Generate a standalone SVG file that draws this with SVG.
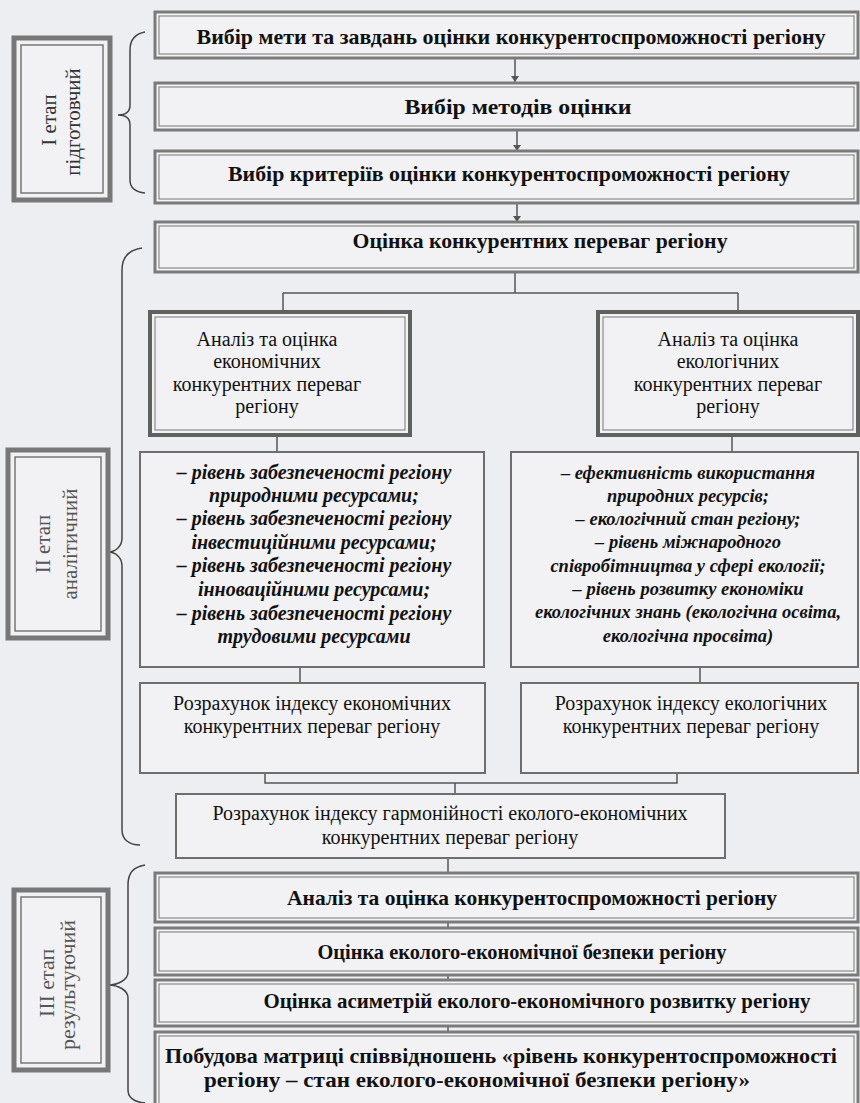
<svg xmlns="http://www.w3.org/2000/svg" width="860" height="1103" viewBox="0 0 860 1103">
<defs>
<style>
.bg{fill:#edeef1}
.o{fill:#f2f2f4;stroke:#7a7a7a;stroke-width:3}
.i{fill:none;stroke:#8a8a8a;stroke-width:1.2}
.od{fill:#f2f2f4;stroke:#606060;stroke-width:4}
.s{fill:#f2f2f4;stroke:#6e6e6e;stroke-width:2}
.so{fill:#f2f2f4;stroke:#777;stroke-width:5}
.si{fill:none;stroke:#777;stroke-width:1.5}
text{font-family:"Liberation Serif","Times New Roman",serif;fill:#111;text-anchor:middle}
.hb{font-weight:bold;font-size:21px}
.rg{font-size:20px}
.it{font-style:italic;font-weight:bold;font-size:20px}
.it2{font-style:italic;font-weight:bold;font-size:18.5px}
.st{font-size:21px;fill:#555}
.st3{font-size:22px;fill:#555}
.st1{font-size:21px;fill:#333}
.c{stroke:#555;stroke-width:1.5;fill:none}
.br{stroke:#444;stroke-width:1.5;fill:none}
</style>
<marker id="ad" markerWidth="10" markerHeight="8" refX="5" refY="8" orient="0" markerUnits="userSpaceOnUse" viewBox="0 0 10 8">
<path d="M1 2 L9 2 L5 8 Z" fill="#555"/>
</marker>
</defs>
<rect class="bg" x="0" y="0" width="860" height="1103"/>

<g id="connectors">
<path class="c" d="M515 58 V82" marker-end="url(#ad)"/>
<path class="c" d="M517 130 V151" marker-end="url(#ad)"/>
<path class="c" d="M517 203 V222" marker-end="url(#ad)"/>
<path class="c" d="M515 272 V293 M283 293 H738 M283 293 V312 M738 293 V312"/>
<path class="c" d="M277 435 V452 M732 435 V452"/>
<path class="c" d="M300 667 V683 M700 667 V683"/>
<path class="c" d="M265 773 V783 H677 V773 M455 783 V794"/>
<path class="c" d="M448 858 V873 M448 922 V928 M448 975 V980 M448 1026 V1032"/>
</g>

<g id="braces">
<path class="br" d="M145 32 C134 34 130 40 130 50 V105 C130 112 125 115 118 115 C125 115 130 118 130 125 V180 C130 188 135 192 145 193"/>
<path class="br" d="M142 248 C128 250 122 258 122 270 V538 C122 546 116 552 108 552 C116 552 122 558 122 566 V830 C122 840 130 845 140 845"/>
<path class="br" d="M145 865 C133 867 128 873 128 885 V972 C128 980 118 985 108 985 C118 985 128 990 128 998 V1090 C128 1098 135 1102 145 1103"/>
</g>

<g id="stage1">
<rect class="so" x="14" y="38" width="96" height="162"/>
<rect class="si" x="21" y="45" width="82" height="148"/>
<text class="st1" transform="translate(56 120) rotate(-90)">І етап</text>
<text class="st1" transform="translate(80 122) rotate(-90)">підготовчий</text>
</g>

<g id="stage2">
<rect class="so" x="8" y="450" width="100" height="188"/>
<rect class="si" x="15" y="457" width="86" height="174"/>
<text class="st" transform="translate(50 544) rotate(-90)">ІІ етап</text>
<text class="st" transform="translate(77 544) rotate(-90)">аналітичний</text>
</g>

<g id="stage3">
<rect class="so" x="14" y="890" width="94" height="180"/>
<rect class="si" x="21" y="897" width="80" height="166"/>
<text class="st3" transform="translate(54 983) rotate(-90)">ІІІ етап</text>
<text class="st3" transform="translate(75 985) rotate(-90)">результуючий</text>
</g>

<g id="n1">
<rect class="o" x="155" y="12" width="703" height="46"/>
<rect class="i" x="159" y="16" width="695" height="38"/>
<text class="hb" x="511" y="44" textLength="629" lengthAdjust="spacingAndGlyphs">Вибір мети та завдань оцінки конкурентоспроможності регіону</text>
</g>
<g id="n2">
<rect class="o" x="155" y="83" width="703" height="47"/>
<rect class="i" x="159" y="87" width="695" height="39"/>
<text class="hb" x="518" y="114" textLength="227" lengthAdjust="spacingAndGlyphs">Вибір методів оцінки</text>
</g>
<g id="n3">
<rect class="o" x="155" y="151" width="703" height="52"/>
<rect class="i" x="159" y="155" width="695" height="44"/>
<text class="hb" x="509" y="181" textLength="562" lengthAdjust="spacingAndGlyphs">Вибір критеріїв оцінки конкурентоспроможності регіону</text>
</g>
<g id="n4">
<rect class="o" x="155" y="222" width="703" height="50"/>
<rect class="i" x="159" y="226" width="695" height="42"/>
<text class="hb" x="540" y="248" textLength="375" lengthAdjust="spacingAndGlyphs">Оцінка конкурентних переваг регіону</text>
</g>

<g id="n5">
<rect class="od" x="150" y="312" width="260" height="123"/>
<rect class="i" x="155" y="317" width="250" height="113"/>
<text class="rg" x="267" y="346">Аналіз та оцінка</text>
<text class="rg" x="267" y="368">економічних</text>
<text class="rg" x="267" y="391">конкурентних переваг</text>
<text class="rg" x="267" y="413">регіону</text>
</g>
<g id="n6">
<rect class="od" x="598" y="312" width="260" height="123"/>
<rect class="i" x="603" y="317" width="250" height="113"/>
<text class="rg" x="728" y="346">Аналіз та оцінка</text>
<text class="rg" x="728" y="368">екологічних</text>
<text class="rg" x="728" y="391">конкурентних переваг</text>
<text class="rg" x="728" y="413">регіону</text>
</g>

<g id="n7">
<rect class="s" x="140" y="452" width="344" height="215"/>
<text class="it" x="314" y="479">– рівень забезпеченості регіону</text>
<text class="it" x="314" y="502">природними ресурсами;</text>
<text class="it" x="314" y="525">– рівень забезпеченості регіону</text>
<text class="it" x="314" y="549">інвестиційними ресурсами;</text>
<text class="it" x="314" y="572">– рівень забезпеченості регіону</text>
<text class="it" x="314" y="596">інноваційними ресурсами;</text>
<text class="it" x="314" y="620">– рівень забезпеченості регіону</text>
<text class="it" x="314" y="643">трудовими ресурсами</text>
</g>
<g id="n8">
<rect class="s" x="511" y="452" width="347" height="215"/>
<text class="it2" x="688" y="479">– ефективність використання</text>
<text class="it2" x="688" y="502">природних ресурсів;</text>
<text class="it2" x="688" y="525">– екологічний стан регіону;</text>
<text class="it2" x="688" y="548">– рівень міжнародного</text>
<text class="it2" x="688" y="572">співробітництва у сфері екології;</text>
<text class="it2" x="688" y="595">– рівень розвитку економіки</text>
<text class="it2" x="688" y="618">екологічних знань (екологічна освіта,</text>
<text class="it2" x="688" y="642">екологічна просвіта)</text>
</g>

<g id="n9">
<rect class="s" x="140" y="683" width="345" height="90"/>
<text class="rg" x="312" y="710">Розрахунок індексу економічних</text>
<text class="rg" x="312" y="733">конкурентних переваг регіону</text>
</g>
<g id="n10">
<rect class="s" x="521" y="683" width="337" height="90"/>
<text class="rg" x="691" y="710">Розрахунок індексу екологічних</text>
<text class="rg" x="691" y="733">конкурентних переваг регіону</text>
</g>
<g id="n11">
<rect class="s" x="176" y="794" width="549" height="64"/>
<text class="rg" x="450" y="820">Розрахунок індексу гармонійності еколого-економічних</text>
<text class="rg" x="450" y="844">конкурентних переваг регіону</text>
</g>

<g id="n12">
<rect class="o" x="155" y="873" width="703" height="49"/>
<rect class="i" x="159" y="877" width="695" height="41"/>
<text class="hb" x="532" y="905" textLength="490" lengthAdjust="spacingAndGlyphs">Аналіз та оцінка конкурентоспроможності регіону</text>
</g>
<g id="n13">
<rect class="o" x="155" y="928" width="703" height="47"/>
<rect class="i" x="159" y="932" width="695" height="39"/>
<text class="hb" x="522" y="959" textLength="409" lengthAdjust="spacingAndGlyphs">Оцінка еколого-економічної безпеки регіону</text>
</g>
<g id="n14">
<rect class="o" x="155" y="980" width="703" height="46"/>
<rect class="i" x="159" y="984" width="695" height="38"/>
<text class="hb" x="537" y="1008" textLength="547" lengthAdjust="spacingAndGlyphs">Оцінка асиметрій еколого-економічного розвитку регіону</text>
</g>
<g id="n15">
<rect class="o" x="155" y="1032" width="703" height="80"/>
<rect class="i" x="159" y="1036" width="695" height="72"/>
<text class="hb" x="501" y="1063" textLength="672" lengthAdjust="spacingAndGlyphs">Побудова матриці співвідношень «рівень конкурентоспроможності</text>
<text class="hb" x="477" y="1087" textLength="546" lengthAdjust="spacingAndGlyphs">регіону – стан еколого-економічної безпеки регіону»</text>
</g>
</svg>
